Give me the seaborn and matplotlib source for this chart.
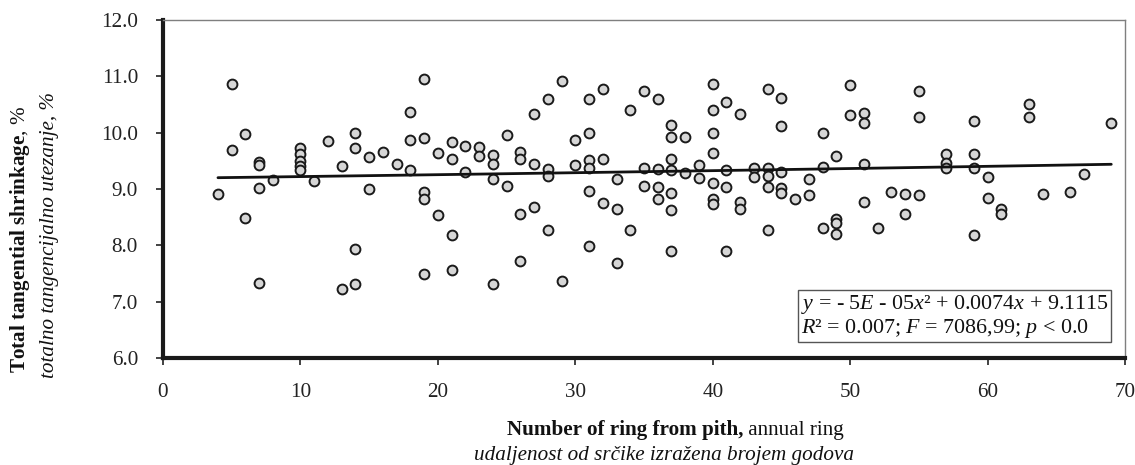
import matplotlib
matplotlib.use("Agg")
import matplotlib.pyplot as plt
import seaborn as sns
import pandas as pd

# ---- data ----
ring = [4, 5, 5, 6, 6, 7, 7, 7, 7, 8,
        10, 10, 10, 10, 10, 11, 12, 13, 13,
        14, 14, 14, 14, 15, 15, 16, 17, 18, 18, 18,
        19, 19, 19, 19, 19, 20, 20, 21, 21, 21, 21,
        22, 22, 23, 23, 24, 24, 24, 24, 25, 25,
        26, 26, 26, 26, 27, 27, 27, 28, 28, 28, 28,
        29, 29, 30, 30, 31, 31, 31, 31, 31, 31,
        32, 32, 32, 33, 33, 33, 34, 34, 35, 35, 35,
        36, 36, 36, 36, 37, 37, 37, 37, 37, 37, 37,
        38, 38, 39, 39, 40, 40, 40, 40, 40, 40, 40,
        41, 41, 41, 41, 42, 42, 42, 43, 43,
        44, 44, 44, 44, 44, 45, 45, 45, 45, 45,
        46, 47, 47, 48, 48, 48, 49, 49, 49, 49,
        50, 50, 51, 51, 51, 51, 52, 53, 54, 54,
        55, 55, 55, 57, 57, 57, 59, 59, 59, 59,
        60, 60, 61, 61, 63, 63, 64, 66, 67, 69]
shrinkage = [8.92, 10.86, 9.69, 9.98, 8.49, 9.48, 9.43, 9.01, 7.33, 9.16,
             9.73, 9.62, 9.50, 9.40, 9.33, 9.14, 9.85, 9.41, 7.22,
             9.99, 9.72, 7.93, 7.31, 9.56, 9.00, 9.66, 9.44, 10.36, 9.87, 9.33,
             10.95, 9.91, 8.95, 8.82, 7.50, 9.64, 8.53, 9.83, 9.53, 8.18, 7.57,
             9.77, 9.30, 9.75, 9.59, 9.60, 9.45, 9.17, 7.32, 9.95, 9.06,
             9.65, 9.53, 8.56, 7.72, 10.33, 9.44, 8.68, 10.59, 9.35, 9.23, 8.28,
             10.92, 7.36, 9.87, 9.42, 10.59, 10.00, 9.51, 9.38, 8.96, 7.99,
             10.77, 9.53, 8.76, 9.18, 8.64, 7.69, 10.41, 8.28, 10.74, 9.37, 9.05,
             10.60, 9.35, 9.04, 8.83, 10.14, 9.92, 9.53, 9.33, 8.93, 8.62, 7.90,
             9.92, 9.28, 9.42, 9.20, 10.86, 10.40, 10.00, 9.64, 9.10, 8.82, 8.74,
             10.54, 9.34, 9.04, 7.90, 10.34, 8.77, 8.64, 9.37, 9.21,
             10.77, 9.38, 9.23, 9.04, 8.27, 10.62, 10.12, 9.31, 9.02, 8.93,
             8.82, 9.18, 8.90, 9.99, 9.39, 8.31, 9.59, 8.46, 8.40, 8.20,
             10.85, 10.31, 10.35, 10.18, 9.44, 8.77, 8.30, 8.95, 8.92, 8.56,
             10.74, 10.27, 8.89, 9.63, 9.47, 9.38, 10.20, 9.62, 9.37, 8.18,
             9.21, 8.84, 8.65, 8.55, 10.50, 10.27, 8.92, 8.94, 9.27, 10.18]

x_ticks = [0, 10, 20, 30, 40, 50, 60, 70]
y_ticks = [6.0, 7.0, 8.0, 9.0, 10.0, 11.0, 12.0]

df = pd.DataFrame({"ring": ring, "shrinkage": shrinkage})

sns.set_theme(style="white")
plt.rcParams["font.family"] = ["Liberation Serif", "DejaVu Serif"]
plt.rcParams["mathtext.fontset"] = "custom"
plt.rcParams["mathtext.rm"] = "Liberation Serif"
plt.rcParams["mathtext.it"] = "Liberation Serif:italic"
plt.rcParams["mathtext.bf"] = "Liberation Serif:bold"

fig = plt.figure(figsize=(11.35, 4.65), dpi=100)
ax = fig.add_axes([0.1436, 0.2301, 0.8476, 0.7269])

sns.scatterplot(data=df, x="ring", y="shrinkage", ax=ax, s=50,
                color="#d6d6d6", edgecolor="#1a1a1a", linewidth=1.4,
                zorder=3, legend=False)
sns.regplot(data=df, x="ring", y="shrinkage", ax=ax, scatter=False,
            order=2, ci=None, line_kws={"color": "#111111", "lw": 2.0,
                                        "zorder": 4})

ax.set_xlim(0, 70)
ax.set_ylim(6, 12)
ax.set_xticks(x_ticks)
ax.set_yticks(y_ticks)
ax.set_yticklabels([f"{v:.1f}" for v in y_ticks])
ax.set_xticklabels([str(v) for v in x_ticks])
ax.tick_params(axis="both", labelsize=15.2, colors="#222222", direction="out",
               length=5, width=1.2)
ax.tick_params(axis="x", pad=13, bottom=True)
ax.tick_params(axis="y", pad=13, left=True)

for side in ("left", "bottom"):
    ax.spines[side].set_color("#1a1a1a")
    ax.spines[side].set_linewidth(3.0)
for side in ("top", "right"):
    ax.spines[side].set_color("#7f7f7f")
    ax.spines[side].set_linewidth(1.0)

ax.set_xlabel("")
ax.set_ylabel("")

# x axis label (two lines): bold part + regular part
xb = fig.text(0.6546, 0.075, "Number of ring from pith,", ha="right",
              va="center", fontsize=15.2, fontweight="bold", color="#111111")
fig.text(0.6546, 0.075, " annual ring", ha="left", va="center",
         fontsize=15.2, color="#111111")
fig.text(0.5846, 0.021, "udaljenost od srčike izražena brojem godova",
         ha="center", va="center", fontsize=15.2, style="italic",
         color="#111111")

# y axis label (two lines)
yb = fig.text(0.018, 0.485, r"$\mathbf{Total\ tangential\ shrinkage}$, %",
              ha="center", va="center", rotation=90, fontsize=15.2,
              color="#111111")
fig.text(0.044, 0.495, "totalno tangencijalno utezanje, %",
         ha="center", va="center", rotation=90, fontsize=15.2,
         style="italic", color="#111111")

# equation box
eq = (r"$y$ = - 5$E$ - 05$x$² + 0.0074$x$ + 9.1115" "\n"
      r"$R$² = 0.007; $F$ = 7086,99; $p$ < 0.0")
ax.text(0.823, 0.123, eq, transform=ax.transAxes, ha="center", va="center",
        multialignment="left", fontsize=15.8, color="#111111",
        linespacing=1.05,
        bbox=dict(boxstyle="square,pad=0.12", facecolor="white",
                  edgecolor="#555555", linewidth=1.0), zorder=5)

fig.savefig("out.png", dpi=100)
